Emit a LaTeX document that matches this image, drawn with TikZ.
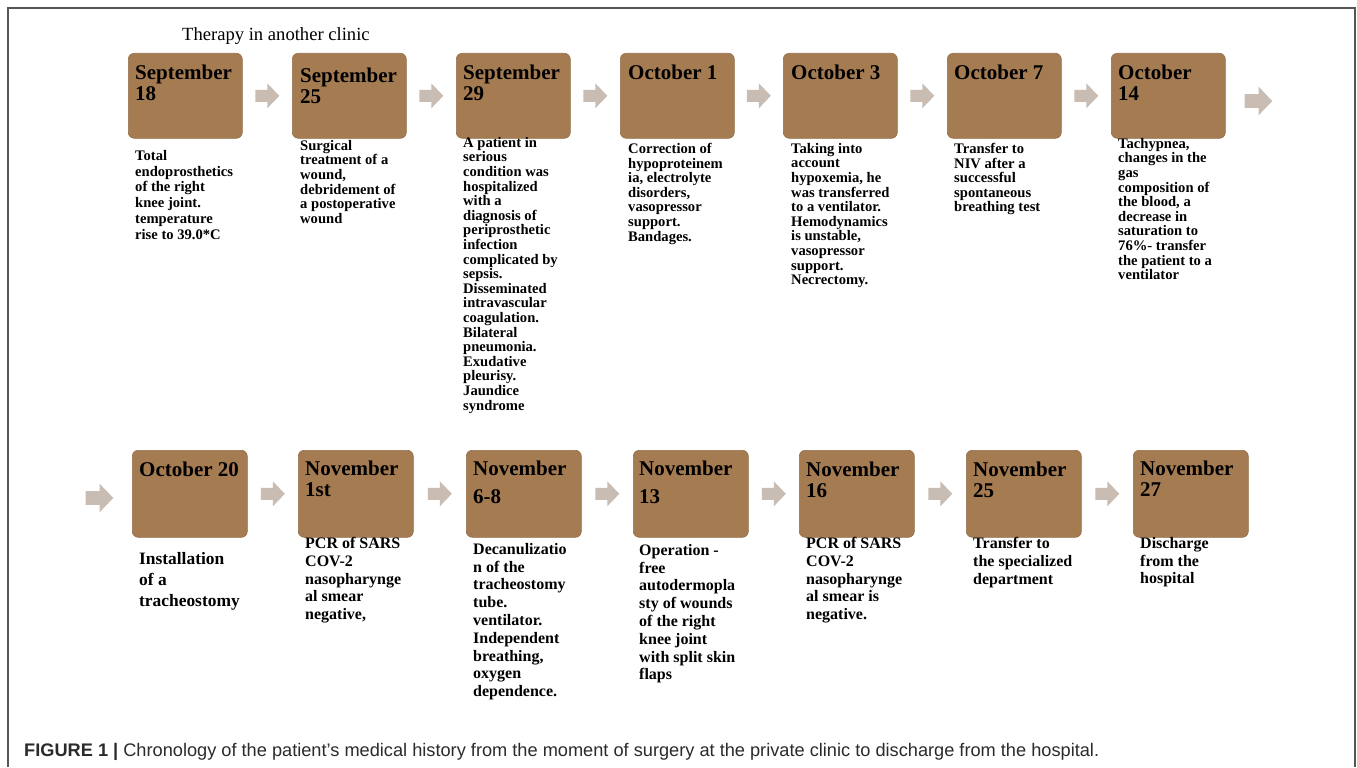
\documentclass[tikz,border=0pt]{standalone}
\usepackage{fontspec}
\setmainfont{Liberation Serif}
\newfontfamily\capfont{Liberation Sans}
\usetikzlibrary{calc}
\definecolor{boxbrown}{HTML}{A57B52}
\definecolor{boxedge}{HTML}{936D48}
\definecolor{arrowgray}{HTML}{C8BCB3}
\definecolor{framegray}{HTML}{555555}
\definecolor{captext}{HTML}{2B2B2B}
\tikzset{
 datebox/.style={fill=boxbrown, draw=boxedge, line width=0.6bp, rounded corners=6bp, anchor=north west, inner sep=0pt, minimum width=114bp, minimum height=85bp},
 dateboxb/.style={datebox, minimum width=115bp, minimum height=87bp},
 datelabel/.style={anchor=north west, inner sep=0pt, align=left, font=\fontsize{21bp}{21bp}\selectfont\bfseries},
 desctop/.style={anchor=north west, inner sep=0pt, align=left, font=\fontsize{14.6bp}{14.6bp}\selectfont\bfseries},
 descbot/.style={anchor=north west, inner sep=0pt, align=left, font=\fontsize{16bp}{17.8bp}\selectfont\bfseries},
 blockarrow/.pic={\fill[arrowgray] (-12,-6) -- (0,-6) -- (0,-12.5) -- (12,0) -- (0,12.5) -- (0,6) -- (-12,6) -- cycle;}
}
\begin{document}
\begin{tikzpicture}[x=1bp,y=-1bp]
\useasboundingbox (0,0) rectangle (1357,767);
\fill[white] (0,0) rectangle (1357,767);
% frame
\draw[framegray, line width=1.3bp] (8,767) -- (8,8) -- (1355,8);
\draw[framegray, line width=2.2bp] (1355,7.4) -- (1355,767);

\node[anchor=base west, inner sep=0pt, font=\fontsize{18.6bp}{18.6bp}\selectfont] (title) at (182,41) {Therapy in another clinic};

% top row boxes
\node[datebox] (t1) at (128,53) {};
\node[datebox] (t2) at (292,53) {};
\node[datebox] (t3) at (456,53) {};
\node[datebox] (t4) at (620,53) {};
\node[datebox] (t5) at (783,53) {};
\node[datebox] (t6) at (947,53) {};
\node[datebox] (t7) at (1111,53) {};

\node[datelabel] (tl1) at ([shift={(7,12)}]t1.north west) {September\\18};
\node[datelabel] (tl2) at ([shift={(8,15)}]t2.north west) {September\\25};
\node[datelabel] (tl3) at ([shift={(7,12)}]t3.north west) {September\\29};
\node[datelabel] (tl4) at ([shift={(8,12)}]t4.north west) {October 1};
\node[datelabel] (tl5) at ([shift={(8,12)}]t5.north west) {October 3};
\node[datelabel] (tl6) at ([shift={(7,12)}]t6.north west) {October 7};
\node[datelabel] (tl7) at ([shift={(7,12)}]t7.north west) {October\\14};

% top descriptions
\node[desctop, font=\fontsize{14.6bp}{15.8bp}\selectfont\bfseries] (td1) at (135,150) {Total\\endoprosthetics\\of the right\\knee joint.\\temperature\\rise to 39.0*C};
\node[desctop] (td2) at (300,140) {Surgical\\treatment of a\\wound,\\debridement of\\a postoperative\\wound};
\node[desctop] (td3) at (463,137) {A patient in\\serious\\condition was\\hospitalized\\with a\\diagnosis of\\periprosthetic\\infection\\complicated by\\sepsis.\\Disseminated\\intravascular\\coagulation.\\Bilateral\\pneumonia.\\Exudative\\pleurisy.\\Jaundice\\syndrome};
\node[desctop] (td4) at (628,143) {Correction of\\hypoproteinem\\ia, electrolyte\\disorders,\\vasopressor\\support.\\Bandages.};
\node[desctop] (td5) at (791,143) {Taking into\\account\\hypoxemia, he\\was transferred\\to a ventilator.\\Hemodynamics\\is unstable,\\vasopressor\\support.\\Necrectomy.};
\node[desctop] (td6) at (954,143) {Transfer to\\NIV after a\\successful\\spontaneous\\breathing test};
\node[desctop] (td7) at (1118,138) {Tachypnea,\\changes in the\\gas\\composition of\\the blood, a\\decrease in\\saturation to\\76\%- transfer\\the patient to a\\ventilator};

% top arrows
\pic at ($(t1.east)!0.5!(t2.west)$) {blockarrow};
\pic at ($(t2.east)!0.5!(t3.west)$) {blockarrow};
\pic at ($(t3.east)!0.5!(t4.west)$) {blockarrow};
\pic at ($(t4.east)!0.5!(t5.west)$) {blockarrow};
\pic at ($(t5.east)!0.5!(t6.west)$) {blockarrow};
\pic at ($(t6.east)!0.5!(t7.west)$) {blockarrow};
\coordinate (tend) at (1258.5,101);
\pic[scale=1.15] at (tend) {blockarrow};

% bottom row boxes
\node[dateboxb] (b1) at (132,450) {};
\node[dateboxb] (b2) at (298,450) {};
\node[dateboxb] (b3) at (466,450) {};
\node[dateboxb] (b4) at (633,450) {};
\node[dateboxb] (b5) at (799,450) {};
\node[dateboxb] (b6) at (966,450) {};
\node[dateboxb] (b7) at (1133,450) {};

\node[datelabel] (bl1) at ([shift={(7,12)}]b1.north west) {October 20};
\node[datelabel] (bl2) at ([shift={(7,11)}]b2.north west) {November\\1st};
\node[datelabel, font=\fontsize{21bp}{28bp}\selectfont\bfseries] (bl3) at ([shift={(7,11)}]b3.north west) {November\\6-8};
\node[datelabel, font=\fontsize{21bp}{28bp}\selectfont\bfseries] (bl4) at ([shift={(6,11)}]b4.north west) {November\\13};
\node[datelabel] (bl5) at ([shift={(7,12)}]b5.north west) {November\\16};
\node[datelabel] (bl6) at ([shift={(7,12)}]b6.north west) {November\\25};
\node[datelabel] (bl7) at ([shift={(7,11)}]b7.north west) {November\\27};

% bottom descriptions
\node[descbot, font=\fontsize{17.4bp}{21.3bp}\selectfont\bfseries] (bd1) at (139,552) {Installation\\of a\\tracheostomy};
\node[descbot] (bd2) at (305,537) {PCR of SARS\\COV-2\\nasopharynge\\al smear\\negative,};
\node[descbot] (bd3) at (473,543) {Decanulizatio\\n of the\\tracheostomy\\tube.\\ventilator.\\Independent\\breathing,\\oxygen\\dependence.};
\node[descbot] (bd4) at (639,544) {Operation -\\free\\autodermopla\\sty of wounds\\of the right\\knee joint\\with split skin\\flaps};
\node[descbot] (bd5) at (806,537) {PCR of SARS\\COV-2\\nasopharynge\\al smear is\\negative.};
\node[descbot] (bd6) at (973,537) {Transfer to\\the specialized\\department};
\node[descbot] (bd7) at (1140,537) {Discharge\\from the\\hospital};

% bottom arrows
\coordinate (bstart) at (99.5,498);
\pic[scale=1.15] at (bstart) {blockarrow};
\pic at ($(b1.east)!0.5!(b2.west)$) {blockarrow};
\pic at ($(b2.east)!0.5!(b3.west)$) {blockarrow};
\pic at ($(b3.east)!0.5!(b4.west)$) {blockarrow};
\pic at ($(b4.east)!0.5!(b5.west)$) {blockarrow};
\pic at ($(b5.east)!0.5!(b6.west)$) {blockarrow};
\pic at ($(b6.east)!0.5!(b7.west)$) {blockarrow};

% caption
\node[anchor=base west, inner sep=0pt, text=captext, font=\capfont\fontsize{18.2bp}{18.2bp}\selectfont] (cap) at (24,756) {\textbf{FIGURE 1 |} Chronology of the patient’s medical history from the moment of surgery at the private clinic to discharge from the hospital.};
\end{tikzpicture}
\end{document}
